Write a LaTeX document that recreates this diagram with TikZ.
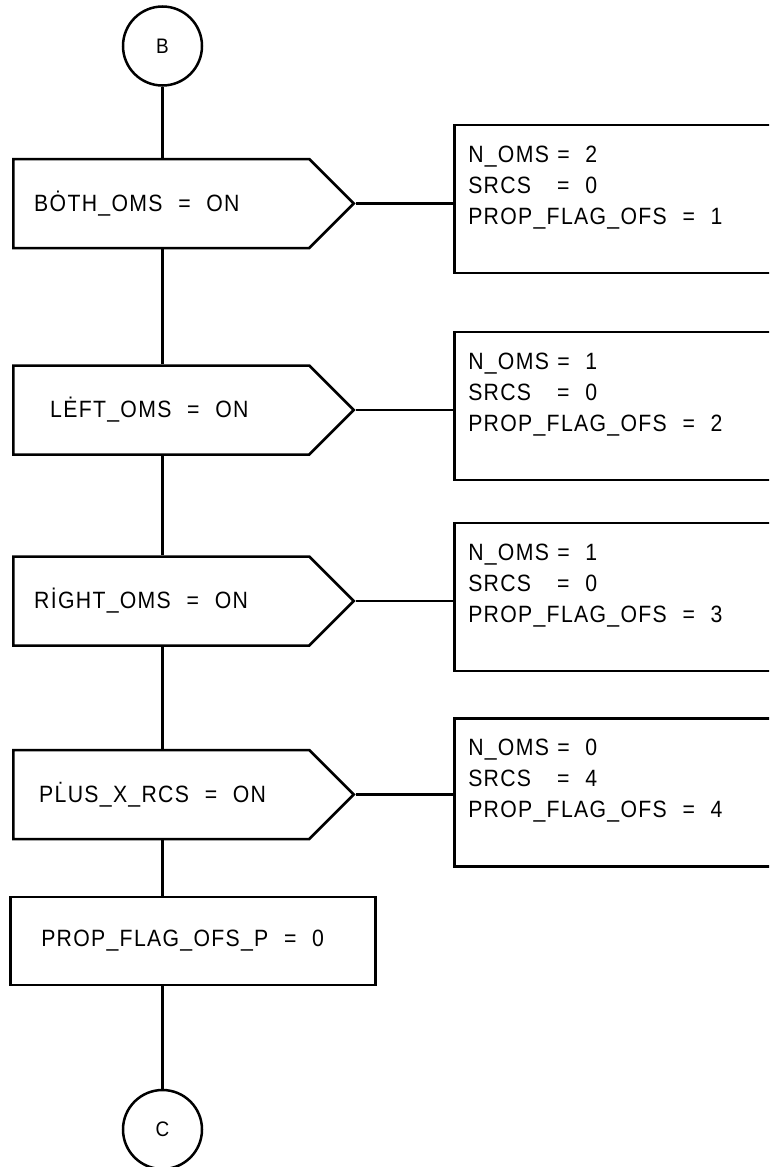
\documentclass[tikz,border=0pt]{standalone}
\usepackage{fontspec}
\setmainfont{Liberation Sans}[FakeStretch=0.9, LetterSpace=5.5]
\usetikzlibrary{shapes.symbols}
\newcommand{\asgn}[2]{\makebox[89pt][l]{#1}=~~#2}

\begin{document}
\begin{tikzpicture}[
  x=1pt, y=-1pt, line width=2.5pt,
  every node/.style={font=\fontsize{23.6}{31}\selectfont},
  conn/.style={draw, circle, minimum size=79pt, inner sep=0pt, font=\fontsize{21}{25}\selectfont},
  test/.style={draw, shape=signal, signal to=east, signal pointer angle=90, anchor=west,
               text width=254pt, align=left, inner xsep=21pt, minimum height=89pt},
  act/.style={draw, anchor=west, text width=312pt, align=left, inner xsep=14pt,
              minimum height=148pt, text depth=90pt},
  proc/.style={draw, anchor=west, text width=303pt, align=left, inner xsep=31pt, minimum height=88pt},
]
\useasboundingbox (0,0) rectangle (769,1167);
\clip (0,0) rectangle (769,1167);

%% Entry connector
\node[conn] (conB) at (162.5,46) {B};

%% Tests down the left column
\node[test] (tboth)  at (12,203.5) {B\.{O}TH\_OMS~~=~~ON};
\node[test] (tleft)  at (12,410)   {\hspace*{16pt}L\.{E}FT\_OMS~~=~~ON};
\node[test] (tright) at (12,601)   {R\.{I}GHT\_OMS~~=~~ON};
\node[test] (tplusx) at (12,794.5) {\hspace*{5pt}P\.{L}US\_X\_RCS~~=~~ON};

%% Settings on the right (cut off by the page edge)
\node[act] (sboth)  at (453,199)   {\asgn{N\_OMS}{2}\\ \asgn{SRCS}{0}\\ PROP\_FLAG\_OFS~~=~~1};
\node[act] (sleft)  at (453,406)   {\asgn{N\_OMS}{1}\\ \asgn{SRCS}{0}\\ PROP\_FLAG\_OFS~~=~~2};
\node[act] (sright) at (453,597)   {\asgn{N\_OMS}{1}\\ \asgn{SRCS}{0}\\ PROP\_FLAG\_OFS~~=~~3};
\node[act] (splusx) at (453,792.5) {\asgn{N\_OMS}{0}\\ \asgn{SRCS}{4}\\ PROP\_FLAG\_OFS~~=~~4};

%% Final assignment and exit connector
\node[proc] (pflag) at (9,941) {PROP\_FLAG\_OFS\_P~~=~~0};
\node[conn] (conC) at (162.5,1129.5) {C};

%% Main line
\draw (conB) -- (conB |- tboth.north);
\draw (tboth.south -| conB)  -- (tleft.north -| conB);
\draw (tleft.south -| conB)  -- (tright.north -| conB);
\draw (tright.south -| conB) -- (tplusx.north -| conB);
\draw (tplusx.south -| conB) -- (pflag.north -| conB);
\draw (pflag.south -| conB)  -- (conC);

%% Branches
\draw (tboth.east)  -- (tboth.east -| sboth.west);
\draw (tleft.east)  -- (tleft.east -| sleft.west);
\draw (tright.east) -- (tright.east -| sright.west);
\draw (tplusx.east) -- (tplusx.east -| splusx.west);

\end{tikzpicture}
\end{document}
